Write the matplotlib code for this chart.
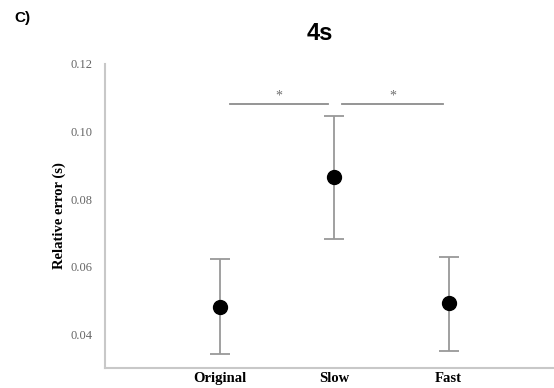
import matplotlib
matplotlib.use('Agg')
import matplotlib.pyplot as plt

# ── Data ──────────────────────────────────────────────────────────────────────
conditions = ['Original', 'Slow', 'Fast']
means      = [0.048, 0.0865, 0.0492]
err_low    = [0.0341, 0.0681, 0.0350]
err_high   = [0.0622, 0.1046, 0.0628]
yticks     = [0.04, 0.06, 0.08, 0.10, 0.12]
sig_pairs  = [(0, 1), (1, 2)]
sig_y      = 0.1081

xpos = list(range(len(conditions)))
yerr = [[m - lo for m, lo in zip(means, err_low)],
        [hi - m for m, hi in zip(means, err_high)]]

fig = plt.figure(figsize=(5.54, 3.88), dpi=100)
ax = fig.add_axes([105 / 554, 20 / 388, 449 / 554, 304 / 388])

ax.errorbar(xpos, means, yerr=yerr, fmt='o', color='black', ms=10,
            ecolor='#999999', elinewidth=1.3, capsize=7, capthick=1.3, zorder=3)

# significance brackets
for a, b in sig_pairs:
    x0 = a + 0.09 if a == 0 else a + 0.07
    x1 = b - 0.05
    ax.plot([x0, x1], [sig_y, sig_y], color='#8c8c8c', lw=1.3)
    ax.text((x0 + x1) / 2, sig_y + 0.0004, '*', ha='center', va='bottom',
            fontsize=10, color='#707070', family='Liberation Serif')

ax.set_xlim(-1.0, 2.92)
ax.set_ylim(0.03, 0.12)
ax.set_xticks(xpos)
ax.set_xticklabels(conditions, family='Liberation Serif', fontweight='bold',
                   fontsize=10.5)
ax.set_yticks(yticks)
ax.set_yticklabels([f'{v:.2f}' for v in yticks], family='Liberation Serif',
                   fontsize=9, color='#666666')
ax.tick_params(length=0)
ax.tick_params(axis='y', pad=9)
ax.tick_params(axis='x', pad=3)

for s in ['top', 'right']:
    ax.spines[s].set_visible(False)
for s in ['left', 'bottom']:
    ax.spines[s].set_color('#c8c8c8')
    ax.spines[s].set_linewidth(1.5)

ax.set_ylabel('Relative error (s)', family='Liberation Serif',
              fontweight='bold', fontsize=10.5, labelpad=3)

fig.text(320 / 554, 1 - 33 / 388, '4s', ha='center', va='center',
         family='Liberation Sans', fontweight='bold', fontsize=17)
fig.text(22 / 554, 1 - 18 / 388, 'C)', ha='center', va='center',
         family='Liberation Sans', fontweight='bold', fontsize=11)

fig.savefig('out.png', dpi=100)
